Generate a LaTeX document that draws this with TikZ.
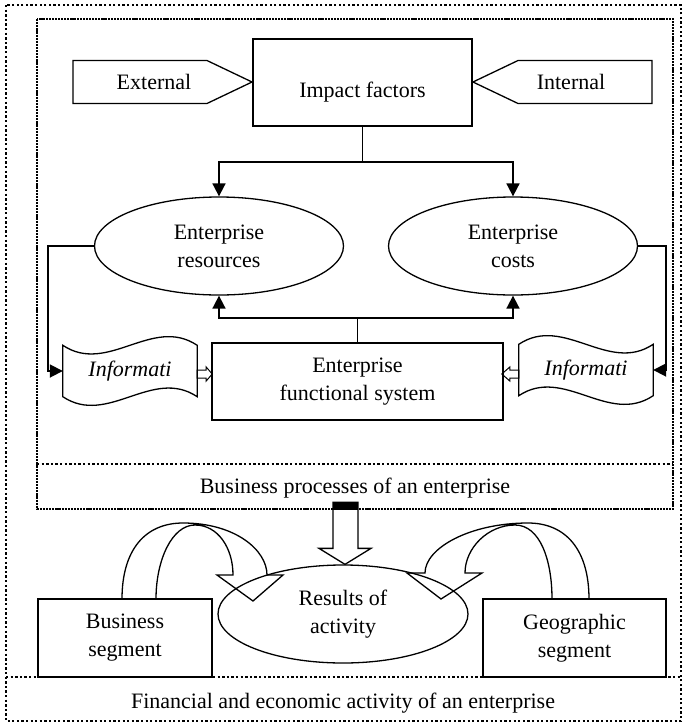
\documentclass[tikz,border=0pt]{standalone}
\usepackage{fontspec}
\setmainfont{Liberation Serif}
\usetikzlibrary{arrows.meta,positioning,shapes.geometric,shapes.symbols,calc}
\tikzset{
  lbl/.style={font=\fontsize{22}{28}\selectfont, align=center, inner sep=0pt},
  factorbox/.style={rectangle, draw, line width=1.3pt, lbl},
  sidearrow/.style={signal, draw, line width=1.3pt, lbl,
    signal pointer angle=51, minimum width=179, minimum height=43},
  resellipse/.style={ellipse, draw, line width=1.3pt, lbl,
    minimum width=249, minimum height=98},
  infotape/.style={rectangle, lbl, font=\fontsize{22}{28}\selectfont\itshape,
    minimum width=134, minimum height=51},
  outline/.style={draw, line width=1.3pt},
  linkarrow/.style={-{Triangle[length=13pt,width=13pt]}, line width=1.8pt},
  squaredots/.style={line width=2.3pt, dash pattern=on 2.3pt off 2.3pt},
  framedots/.style={line width=2.6pt, dash pattern=on 2.2pt off 0.9pt},
}

\begin{document}
\begin{tikzpicture}[x=1pt, y=-1pt]
  \useasboundingbox (0,0) rectangle (684,724);
  % frames
  \draw[squaredots] (6,5) rectangle (681,721);
  \draw[squaredots] (6,677) -- (681,677);
  \draw[framedots] (37,19) rectangle (673,509);
  \draw[squaredots] (37,464) -- (673,464);

  % top part
  \node[factorbox, minimum width=219, minimum height=87, text height=30pt, text depth=0pt] (impact) at (362.5,82.5) {Impact factors};
  \node[sidearrow, signal to=east] (ext) at (140,82) {\hspace*{28pt}External};
  \node[sidearrow, signal to=west] (int) at (585,82) {Internal\hspace*{28pt}};

  \node[resellipse] (res) at (219,246) {Enterprise\\resources};
  \node[resellipse] (costs) at (513,246) {Enterprise\\costs};

  \node[factorbox, minimum width=291, minimum height=77] (func) at (357.5,381.5) {Enterprise\\functional system};
  \node[infotape] (infoL) at (130,371) {Informati};
  \node[infotape] (infoR) at (586,370) {Informati};

  % wavy tapes
  \draw[outline] (infoL.north west) .. controls +(45,30) and +(-45,-30) .. (infoL.north east)
    -- (infoL.south east) .. controls +(-45,-30) and +(45,30) .. (infoL.south west) -- cycle;
  \draw[outline] (infoR.north west) .. controls +(45,-30) and +(-45,30) .. (infoR.north east)
    -- (infoR.south east) .. controls +(-45,30) and +(45,-30) .. (infoR.south west) -- cycle;

  % connectors
  \draw[linkarrow] (impact.south) -- ++(0,35) coordinate (tj) -| (res.north);
  \draw[linkarrow] (tj) -| (costs.north);
  \draw[linkarrow] (func.north) -- ++(0,-24) coordinate (bj) -| (res.south);
  \draw[linkarrow] (bj) -| (costs.south);
  \draw[linkarrow] (res.west) -- ++(-46,0) |- (infoL.west);
  \draw[linkarrow] (costs.east) -- ++(28,0) |- (infoR.east);

  % small hollow arrows
  \draw[outline, line width=1pt, shift={(infoL.east)}] (0,-1) -- (9,-1) -- (9,-4) -- (15,3)
    -- (9,10) -- (9,7) -- (0,7) -- cycle;
  \draw[outline, line width=1pt, shift={(infoR.west)}] (0,0) -- (-9,0) -- (-9,-3) -- (-17,4)
    -- (-9,11) -- (-9,8) -- (0,8) -- cycle;

  \node[lbl] (bproc) at (355,488) {Business processes of an enterprise};

  % bottom part
  \node[resellipse, minimum width=250] (results) at (343,614) {Results of\\activity};
  \node[factorbox, minimum width=174, minimum height=78] (bseg) at (125,638) {Business\\segment};
  \node[factorbox, minimum width=183, minimum height=78] (gseg) at (574.5,638) {Geographic\\segment};
  \node[lbl] (fin) at (343,703) {Financial and economic activity of an enterprise};

  % block arrow down
  \draw[outline, fill=white, shift={(results.north)}] (2,0) -- (-24,-16) -- (-10,-16) -- (-10,-62)
    -- (15,-62) -- (15,-16) -- (28,-16) -- cycle;
  \fill[shift={(results.north)}] (-10,-62) rectangle (15,-54);

  % curved arrows
  \draw[outline] (122,599) .. controls (122,550) and (145,523) .. (183,523)
    .. controls (235,523) and (267,550) .. (267,575) -- (283,575) -- (253,601) -- (217,575) -- (233,575)
    .. controls (233,548) and (218,525) .. (195,525) .. controls (172,525) and (156,560) .. (156,599) -- cycle;
  \draw[outline] (589,599) .. controls (589,550) and (566,523) .. (528,523)
    .. controls (470,523) and (425,548) .. (425,573) -- (407,573) -- (441,599) -- (482,573) -- (465,573)
    .. controls (465,548) and (488,525) .. (515,525) .. controls (540,525) and (552,560) .. (552,599) -- cycle;
\end{tikzpicture}
\end{document}
